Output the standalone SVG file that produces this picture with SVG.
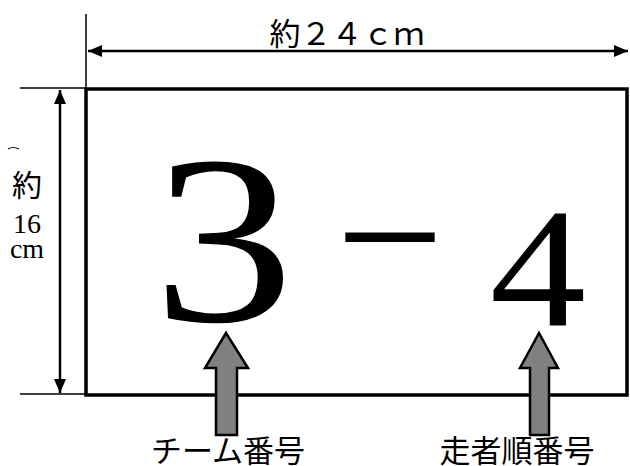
<svg xmlns="http://www.w3.org/2000/svg" width="630" height="466" viewBox="0 0 630 466">
  <defs>
    <marker id="ah" viewBox="0 0 14 12" refX="14" refY="6" markerWidth="14" markerHeight="12" markerUnits="userSpaceOnUse" orient="auto-start-reverse">
      <path d="M0,0 L14,6 L0,12 Z" fill="#000"/>
    </marker>
    <style>
      .jp { font-family: "Noto Sans CJK JP", "Noto Sans", sans-serif; fill: #000; }
      .ser { font-family: "Liberation Serif", "Noto Sans CJK JP", serif; fill: #000; }
      .thin { stroke: #000; stroke-width: 1.5; fill: none; }
      .dim { stroke: #000; stroke-width: 2.5; fill: none; }
      .blk { fill: #808080; stroke: #000; stroke-width: 2.5; stroke-linejoin: miter; }
    </style>
  </defs>
  <rect width="630" height="466" fill="#fff"/>

  <g id="guides">
    <line class="thin" x1="86" y1="14" x2="86" y2="90"/>
    <line class="thin" x1="20" y1="88" x2="86" y2="88"/>
    <line class="thin" x1="20" y1="394" x2="86" y2="394"/>
  </g>

  <g id="board">
    <rect x="86" y="89" width="541" height="306" fill="#fff" stroke="#000" stroke-width="3.5"/>
    <text class="ser" transform="translate(223.5,321) scale(1.17,1)" text-anchor="middle" font-size="241">3</text>
    <text class="ser" x="390" y="301" text-anchor="middle" font-size="192">−</text>
    <text class="ser" transform="translate(538,325) scale(1.14,1)" text-anchor="middle" font-size="169">4</text>
  </g>

  <g id="connectors">
    <line class="dim" x1="88" y1="51" x2="628" y2="51" marker-start="url(#ah)" marker-end="url(#ah)"/>
    <line class="dim" x1="60" y1="90" x2="60" y2="393" marker-start="url(#ah)" marker-end="url(#ah)"/>
  </g>

  <g id="width-label">
    <text class="jp" x="347" y="45" text-anchor="middle" font-size="31">約２４ｃｍ</text>
  </g>

  <g id="height-label">
    <path d="M8,149 Q13,146 19,149" stroke="#000" stroke-width="1.2" fill="none"/>
    <text class="jp" x="27" y="196" text-anchor="middle" font-size="30">約</text>
    <text class="ser" x="27" y="233" text-anchor="middle" font-size="28">16</text>
    <text class="ser" x="27" y="258" text-anchor="middle" font-size="28">cm</text>
  </g>

  <g id="team-arrow">
    <path class="blk" d="M226,333 L248,368 L237,368 L237,435 L216,435 L216,368 L205,368 Z"/>
    <text class="jp" x="228" y="462" text-anchor="middle" font-size="31">チーム番号</text>
  </g>

  <g id="runner-arrow">
    <path class="blk" d="M539,333 L558,368 L549,368 L549,435 L530,435 L530,368 L520,368 Z"/>
    <text class="jp" x="517" y="462" text-anchor="middle" font-size="31">走者順番号</text>
  </g>
</svg>
